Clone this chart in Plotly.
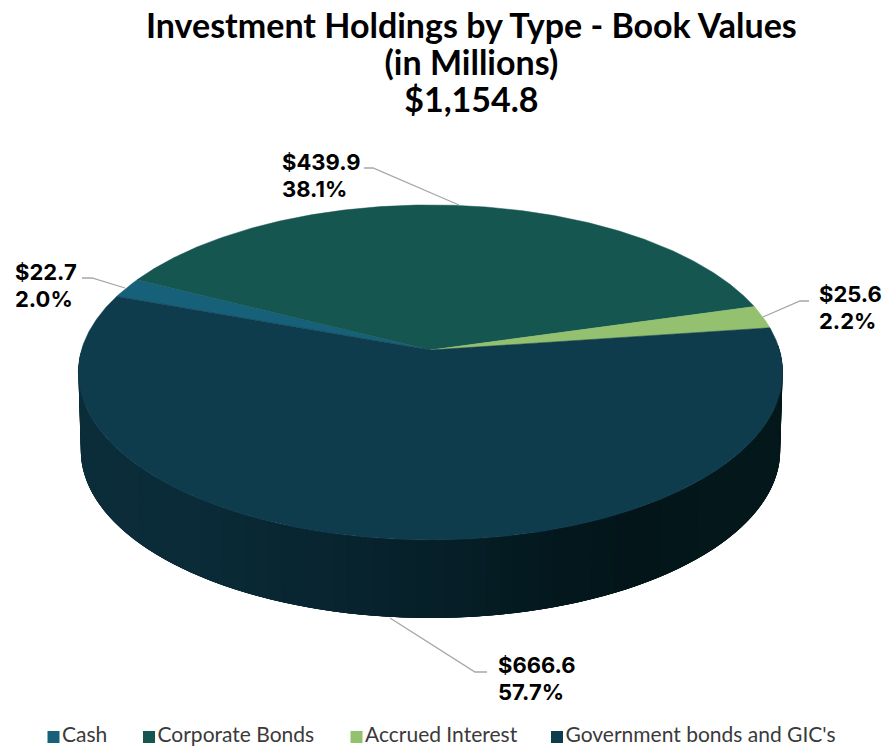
import numpy as np
import plotly.graph_objects as go

categories = ["Cash", "Corporate Bonds", "Accrued Interest", "Government bonds and GIC's"]
values = [22.7, 439.9, 25.6, 666.6]
percents = ["2.0%", "38.1%", "2.2%", "57.7%"]
amounts = ["$22.7", "$439.9", "$25.6", "$666.6"]
colors = ["#17607a", "#155651", "#93c16f", "#0f3c4d"]
title_lines = ["Investment Holdings by Type - Book Values", "(in Millions)", "$1,154.8"]

# pie geometry in page pixels
APEX_X, APEX_Y = 430.5, 350
W, C, P = 349.0, 164.5, 0.134
DEPTH = 78
BOTTOM_SCALE = 0.993
START = 160.1  # degrees, runs clockwise


def project(theta_deg):
    t = np.radians(theta_deg)
    u, v = np.cos(t), np.sin(t)
    d = 1 + P * v
    return APEX_X + W * u / d, APEX_Y - C * v / d


fig = go.Figure()

# side wall: overlapping strips with a left-to-right gradient
stops_x = [78, 200, 330, 470, 560, 640, 700, 782]
stops_rgb = [(12, 46, 58), (10, 43, 55), (8, 37, 48), (6, 30, 38), (4, 24, 30), (3, 21, 25), (4, 24, 28), (4, 24, 28)]
angles = np.linspace(178.0, 362.0, 93)
for a0, a1 in zip(angles[:-1], angles[1:]):
    seg = np.linspace(a0, min(a1 + 6, 362.0), 8)
    x, y = project(seg)
    xb = APEX_X + (x - APEX_X) * BOTTOM_SCALE
    xm, _ = project((a0 + a1) / 2)
    rgb = [np.interp(float(xm), stops_x, [s[i] for s in stops_rgb]) for i in range(3)]
    col = "rgb(%d,%d,%d)" % tuple(rgb)
    fig.add_trace(go.Scatter(
        x=np.r_[x, xb[::-1]], y=np.r_[y, y[::-1] + DEPTH],
        mode="lines", fill="toself", fillcolor=col,
        line=dict(width=0), hoverinfo="skip", showlegend=False))

# top face slices
total = sum(values)
ang = START
for name, val, col in zip(categories, values, colors):
    sweep = val / total * 360
    arc = np.linspace(ang, ang - sweep, max(int(sweep * 2), 8))
    x, y = project(arc)
    fig.add_trace(go.Scatter(
        x=np.r_[APEX_X, x, APEX_X], y=np.r_[APEX_Y, y, APEX_Y],
        mode="lines", fill="toself", fillcolor=col,
        line=dict(color=col, width=0.5), hoverinfo="skip", showlegend=False))
    ang -= sweep

# leader lines
leaders = [
    ([82, 92, 125], [278, 278, 288]),
    ([364, 373, 459], [168, 168, 205]),
    ([809, 800, 763], [301, 301, 317]),
    ([390, 475, 487], [618, 672, 672]),
]
for lx, ly in leaders:
    fig.add_trace(go.Scatter(x=lx, y=ly, mode="lines", line=dict(color="#a6a6a6", width=1.3),
                             hoverinfo="skip", showlegend=False))

# legend row
legend_x = [53.5, 149, 356.5, 557]
for lx, name, col in zip(legend_x, categories, colors):
    fig.add_trace(go.Scatter(x=[lx], y=[737], mode="markers+text", name=name, text=[name],
                             textposition="middle right", cliponaxis=False,
                             textfont=dict(family="Lato", size=21, color="#3a3a3a"),
                             marker=dict(symbol="square", size=12, color=col),
                             hoverinfo="skip", showlegend=False))

# title: annotation font size sets the line spacing, the span sets the glyph size
title_text = "<br>".join('<span style="font-size:34px"><b>%s</b></span>' % t for t in title_lines)
fig.add_annotation(x=471, y=61, text=title_text, showarrow=False, xref="x", yref="y", align="center",
                   font=dict(family="Lato", size=28.5, color="#000000"))

# data labels
label_pos = [(13, 285), (280, 175), (817, 307), (496, 678)]
for (lx, ly), a, p in zip(label_pos, amounts, percents):
    label_text = '<span style="font-size:22px"><b>%s</b><br><b>%s</b></span>' % (a, p)
    fig.add_annotation(x=lx, y=ly, text=label_text, showarrow=False, xanchor="left", align="left",
                       xref="x", yref="y", font=dict(family="Inter", size=20.8, color="#000000"))

fig.update_layout(
    width=886, height=746, margin=dict(l=0, r=0, t=0, b=0),
    paper_bgcolor="white", plot_bgcolor="white", showlegend=False,
    xaxis=dict(range=[0, 886], visible=False, fixedrange=True),
    yaxis=dict(range=[746, 0], visible=False, fixedrange=True),
)
fig.write_html("out.html", config={"displayModeBar": False},
               post_script="document.body.style.margin='0';document.body.style.overflow='hidden';")
